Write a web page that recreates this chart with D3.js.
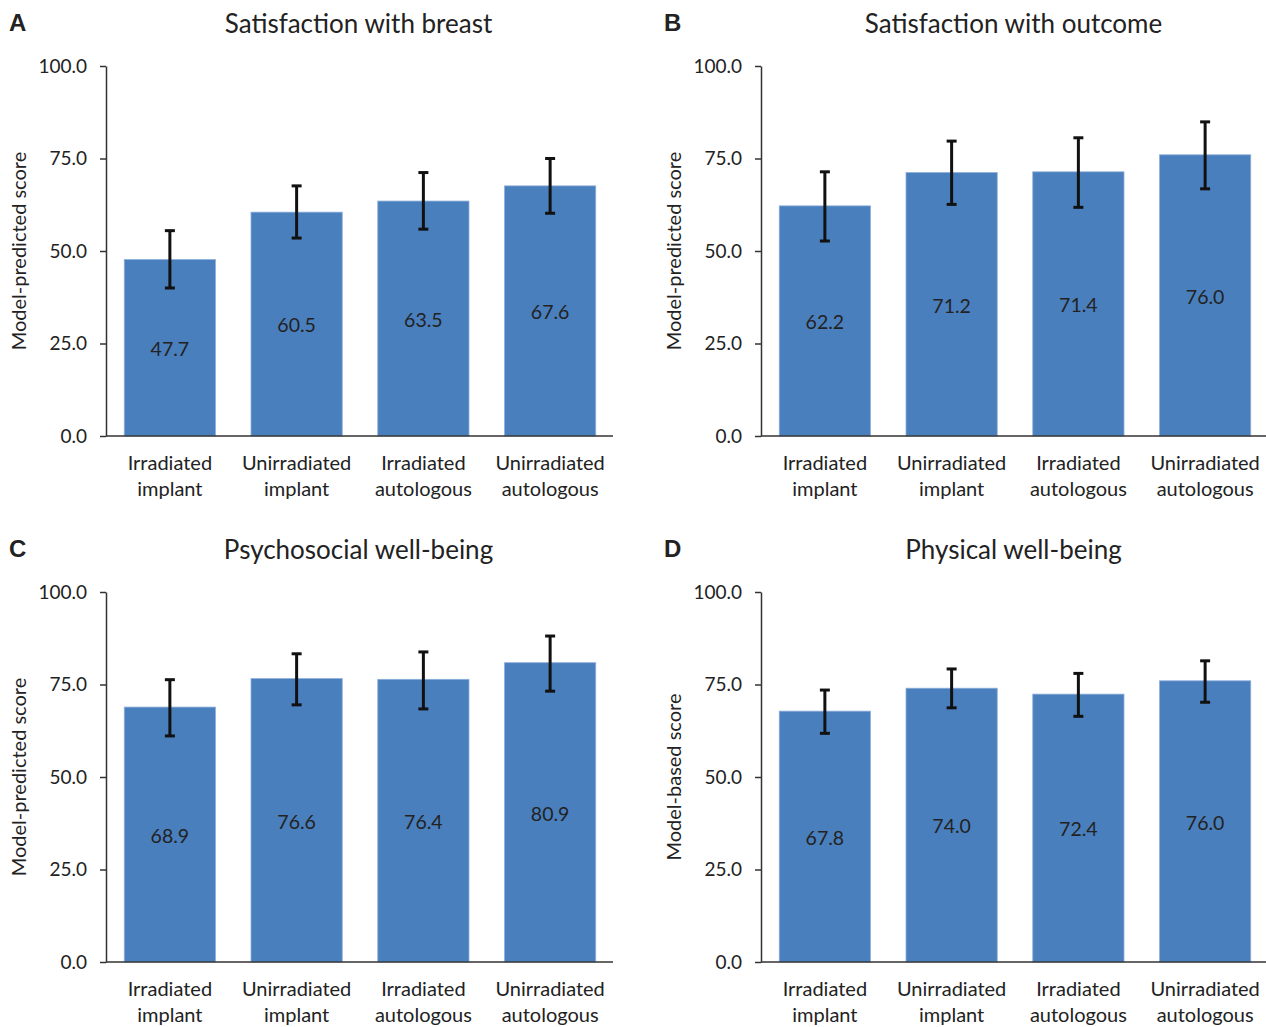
<!DOCTYPE html>
<html>
<head>
<meta charset="utf-8">
<script src="https://cdn.jsdelivr.net/npm/d3@7"></script>
<style>
  body { margin: 0; background: #fff; }
  svg { font-family: Lato, "Open Sans", sans-serif; }
  .axis path, .axis line { stroke: #333; stroke-width: 1.5; }
  .axis text { fill: #222; font-size: 19px; font-family: Lato, "Open Sans", sans-serif; }
</style>
</head>
<body>
<svg id="chart" width="1266" height="1027"></svg>
<script>
// categories, two lines each
var categories = ["Irradiated implant", "Unirradiated implant", "Irradiated autologous", "Unirradiated autologous"];
var catLines = [["Irradiated", "implant"], ["Unirradiated", "implant"], ["Irradiated", "autologous"], ["Unirradiated", "autologous"]];

var panelLetters = ["A", "B", "C", "D"];
var panelTitles = ["Satisfaction with breast", "Satisfaction with outcome", "Psychosocial well-being", "Physical well-being"];
var yLabels = ["Model-predicted score", "Model-predicted score", "Model-predicted score", "Model-based score"];
var yTicks = [0, 25, 50, 75, 100];

// model scores
var breastVals = [47.7, 60.5, 63.5, 67.6];
var outcomeVals = [62.2, 71.2, 71.4, 76.0];
var psychoVals = [68.9, 76.6, 76.4, 80.9];
var physicalVals = [67.8, 74.0, 72.4, 76.0];

// error bar ends
var breastLow = [40.0, 53.5, 55.9, 60.2];
var breastHigh = [55.5, 67.6, 71.2, 75.0];
var outcomeLow = [52.7, 62.6, 61.8, 66.8];
var outcomeHigh = [71.4, 79.7, 80.6, 84.9];
var psychoLow = [61.1, 69.5, 68.4, 73.2];
var psychoHigh = [76.3, 83.3, 83.8, 88.1];
var physicalLow = [61.8, 68.7, 66.4, 70.2];
var physicalHigh = [73.5, 79.2, 78.0, 81.4];

var panels = [
  { vals: breastVals, low: breastLow, high: breastHigh, ox: 0, oy: 0 },
  { vals: outcomeVals, low: outcomeLow, high: outcomeHigh, ox: 655, oy: 0 },
  { vals: psychoVals, low: psychoLow, high: psychoHigh, ox: 0, oy: 526 },
  { vals: physicalVals, low: physicalLow, high: physicalHigh, ox: 655, oy: 526 }
];

var svg = d3.select("#chart");
var barColor = "#4a7fbd";

panels.forEach(function(p, i) {
  var g = svg.append("g").attr("transform", "translate(" + p.ox + "," + p.oy + ")");
  var left = 106, right = 613, top = 66, bottom = 436;

  var x = d3.scaleBand().domain(categories).range([left, right]).paddingInner(0.28).paddingOuter(0.14);
  var y = d3.scaleLinear().domain([0, 100]).range([bottom, top]);

  // bars
  g.selectAll("rect.bar").data(p.vals).enter().append("rect")
    .attr("class", "bar")
    .attr("x", function(d, j) { return x(categories[j]) + 0.5; })
    .attr("width", x.bandwidth())
    .attr("y", function(d) { return y(d); })
    .attr("height", function(d) { return y(0) - y(d); })
    .attr("fill", barColor)
    .attr("stroke", "#8fb0db")
    .attr("stroke-width", 0.8);

  var cx = function(j) { return x(categories[j]) + x.bandwidth() / 2 + 0.5; };

  // value labels, middle of bar
  g.selectAll("text.val").data(p.vals).enter().append("text")
    .attr("class", "val")
    .attr("x", function(d, j) { return cx(j); })
    .attr("y", function(d) { return y(d / 2) + 1.5; })
    .attr("dy", "0.35em")
    .attr("text-anchor", "middle")
    .attr("font-size", 19.5)
    .attr("fill", "#222")
    .text(function(d) { return d3.format(".1f")(d); });

  // error bars
  var eb = g.selectAll("g.err").data(p.vals).enter().append("g").attr("class", "err");
  eb.append("line")
    .attr("x1", function(d, j) { return cx(j); }).attr("x2", function(d, j) { return cx(j); })
    .attr("y1", function(d, j) { return y(p.low[j]); }).attr("y2", function(d, j) { return y(p.high[j]); })
    .attr("stroke", "#111").attr("stroke-width", 3);
  eb.append("line")
    .attr("x1", function(d, j) { return cx(j) - 5; }).attr("x2", function(d, j) { return cx(j) + 5; })
    .attr("y1", function(d, j) { return y(p.high[j]); }).attr("y2", function(d, j) { return y(p.high[j]); })
    .attr("stroke", "#111").attr("stroke-width", 3);
  eb.append("line")
    .attr("x1", function(d, j) { return cx(j) - 5; }).attr("x2", function(d, j) { return cx(j) + 5; })
    .attr("y1", function(d, j) { return y(p.low[j]); }).attr("y2", function(d, j) { return y(p.low[j]); })
    .attr("stroke", "#111").attr("stroke-width", 3);

  // y axis
  var yAxis = d3.axisLeft(y).tickValues(yTicks).tickFormat(d3.format(".1f")).tickSize(6).tickSizeOuter(0).tickPadding(13);
  g.append("g").attr("class", "axis").attr("transform", "translate(" + left + ",0)").call(yAxis);

  // x axis line only
  g.append("line").attr("x1", left).attr("x2", right).attr("y1", bottom).attr("y2", bottom)
    .attr("stroke", "#333").attr("stroke-width", 1.5);

  // category labels
  var cl = g.selectAll("text.cat").data(catLines).enter().append("text")
    .attr("class", "cat")
    .attr("text-anchor", "middle")
    .attr("font-size", 20)
    .attr("fill", "#222");
  cl.each(function(lines, j) {
    var t = d3.select(this);
    lines.forEach(function(s, k) {
      t.append("tspan").attr("x", cx(j)).attr("y", bottom + 34 + k * 26).text(s);
    });
  });

  // y axis title
  g.append("text")
    .attr("transform", "translate(26," + ((top + bottom) / 2) + ") rotate(-90)")
    .attr("text-anchor", "middle")
    .attr("font-size", 20)
    .attr("fill", "#222")
    .text(yLabels[i]);

  // panel title
  g.append("text")
    .attr("x", (left + right) / 2 - 1).attr("y", top - 33)
    .attr("text-anchor", "middle")
    .attr("font-size", 26)
    .attr("fill", "#222")
    .text(panelTitles[i]);

  // panel letter
  g.append("text")
    .attr("x", 9).attr("y", top - 35)
    .attr("font-size", 24)
    .attr("font-weight", "bold")
    .attr("font-family", "Liberation Sans, Arial, sans-serif")
    .attr("fill", "#222")
    .text(panelLetters[i]);
});
</script>
</body>
</html>
